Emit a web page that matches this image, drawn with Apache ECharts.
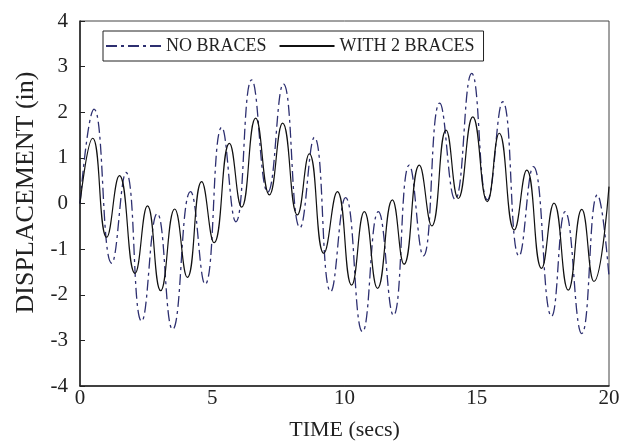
<!DOCTYPE html>
<html>
<head>
<meta charset="utf-8">
<script src="https://cdn.jsdelivr.net/npm/echarts@6/dist/echarts.min.js"></script>
<style>
html,body{margin:0;padding:0;background:#fff;}
#chart{width:631px;height:448px;}
</style>
</head>
<body>
<div id="chart"></div>
<script>
// NO BRACES (dash-dot) — times (secs) and displacement (in) at read extrema
var noBracesT = [0, 0.53, 1.2, 1.74, 2.33, 2.92, 3.5, 4.18, 4.73, 5.36, 5.89, 6.49, 7.1, 7.69, 8.32, 8.86, 9.48, 10.04, 10.68, 11.28, 11.85, 12.45, 12.98, 13.6, 14.18, 14.81, 15.4, 15.98, 16.6, 17.14, 17.83, 18.34, 18.97, 19.56, 20];
var noBracesV = [0, 2.07, -1.31, 0.68, -2.58, -0.22, -2.76, 0.26, -1.77, 1.67, -0.40, 2.71, 0.25, 2.62, -0.53, 1.45, -1.93, 0.13, -2.81, -0.18, -2.45, 0.84, -1.15, 2.2, 0.09, 2.85, 0.08, 2.23, -1.15, 0.81, -2.47, -0.18, -2.85, 0.19, -1.6];
// WITH 2 BRACES (solid)
var bracesT = [0, 0.48, 1.01, 1.49, 2.08, 2.55, 3.05, 3.58, 4.06, 4.6, 5.07, 5.65, 6.11, 6.64, 7.16, 7.66, 8.22, 8.67, 9.22, 9.73, 10.27, 10.75, 11.25, 11.81, 12.25, 12.83, 13.3, 13.84, 14.3, 14.85, 15.4, 15.85, 16.42, 16.89, 17.45, 17.92, 18.46, 18.97, 19.43, 20];
var bracesV = [0, 1.43, -0.74, 0.61, -1.53, -0.05, -1.91, -0.12, -1.62, 0.48, -0.86, 1.32, -0.08, 1.87, 0.19, 1.76, -0.25, 1.09, -1.09, 0.26, -1.79, -0.18, -1.86, 0.08, -1.33, 0.84, -0.49, 1.61, 0.11, 1.9, 0.04, 1.54, -0.58, 0.73, -1.42, 0.01, -1.9, -0.13, -1.71, 0.37];

var seriesNames = ['NO BRACES', 'WITH 2 BRACES'];
var xAxisName = 'TIME (secs)';
var yAxisName = 'DISPLACEMENT (in)';

function pairs(t, v) { return t.map(function (x, i) { return [x, v[i]]; }); }

var FONT = '"Liberation Serif", "Times New Roman", serif';
var chart = echarts.init(document.getElementById('chart'), null, {renderer: 'canvas'});
chart.setOption({
  animation: false,
  backgroundColor: '#fff',
  grid: {left: 80, right: 22, top: 21, bottom: 62, show: true, borderColor: '#444', borderWidth: 1},
  legend: {
    left: 103, top: 31,
    padding: [6, 9, 6, 2],
    borderColor: '#222', borderWidth: 1,
    itemWidth: 55, itemHeight: 10, itemGap: 12,
    itemStyle: {opacity: 0},
    textStyle: {fontFamily: FONT, fontSize: 18, color: '#222'},
    data: seriesNames
  },
  xAxis: {
    type: 'value', min: 0, max: 20, interval: 5,
    name: xAxisName, nameLocation: 'middle', nameGap: 33,
    nameTextStyle: {fontFamily: FONT, fontSize: 22, color: '#222'},
    axisLine: {onZero: false, lineStyle: {color: '#222', width: 1.5}},
    axisTick: {show: false},
    axisLabel: {fontFamily: FONT, fontSize: 21, color: '#222', margin: 2},
    splitLine: {show: false}
  },
  yAxis: {
    type: 'value', min: -4, max: 4, interval: 1,
    name: yAxisName, nameLocation: 'middle', nameGap: 32,
    nameTextStyle: {fontFamily: FONT, fontSize: 26, color: '#222', padding: [0, 0, 0, 22]},
    axisLine: {show: true, onZero: false, lineStyle: {color: '#222', width: 1.5}},
    axisTick: {show: true, inside: true, length: 5, lineStyle: {color: '#222'}},
    axisLabel: {fontFamily: FONT, fontSize: 21, color: '#222', margin: 12},
    splitLine: {show: false}
  },
  series: [
    {
      name: seriesNames[0], type: 'line', data: pairs(noBracesT, noBracesV),
      smooth: 0.5, showSymbol: false, symbol: 'none',
      lineStyle: {color: '#2d2f70', width: 1.3, type: [11, 4, 3, 4]},
      itemStyle: {color: '#2d2f70'}
    },
    {
      name: seriesNames[1], type: 'line', data: pairs(bracesT, bracesV),
      smooth: 0.5, showSymbol: false, symbol: 'none',
      lineStyle: {color: '#111', width: 1.2, type: 'solid'},
      itemStyle: {color: '#111'}
    }
  ]
});
</script>
</body>
</html>
